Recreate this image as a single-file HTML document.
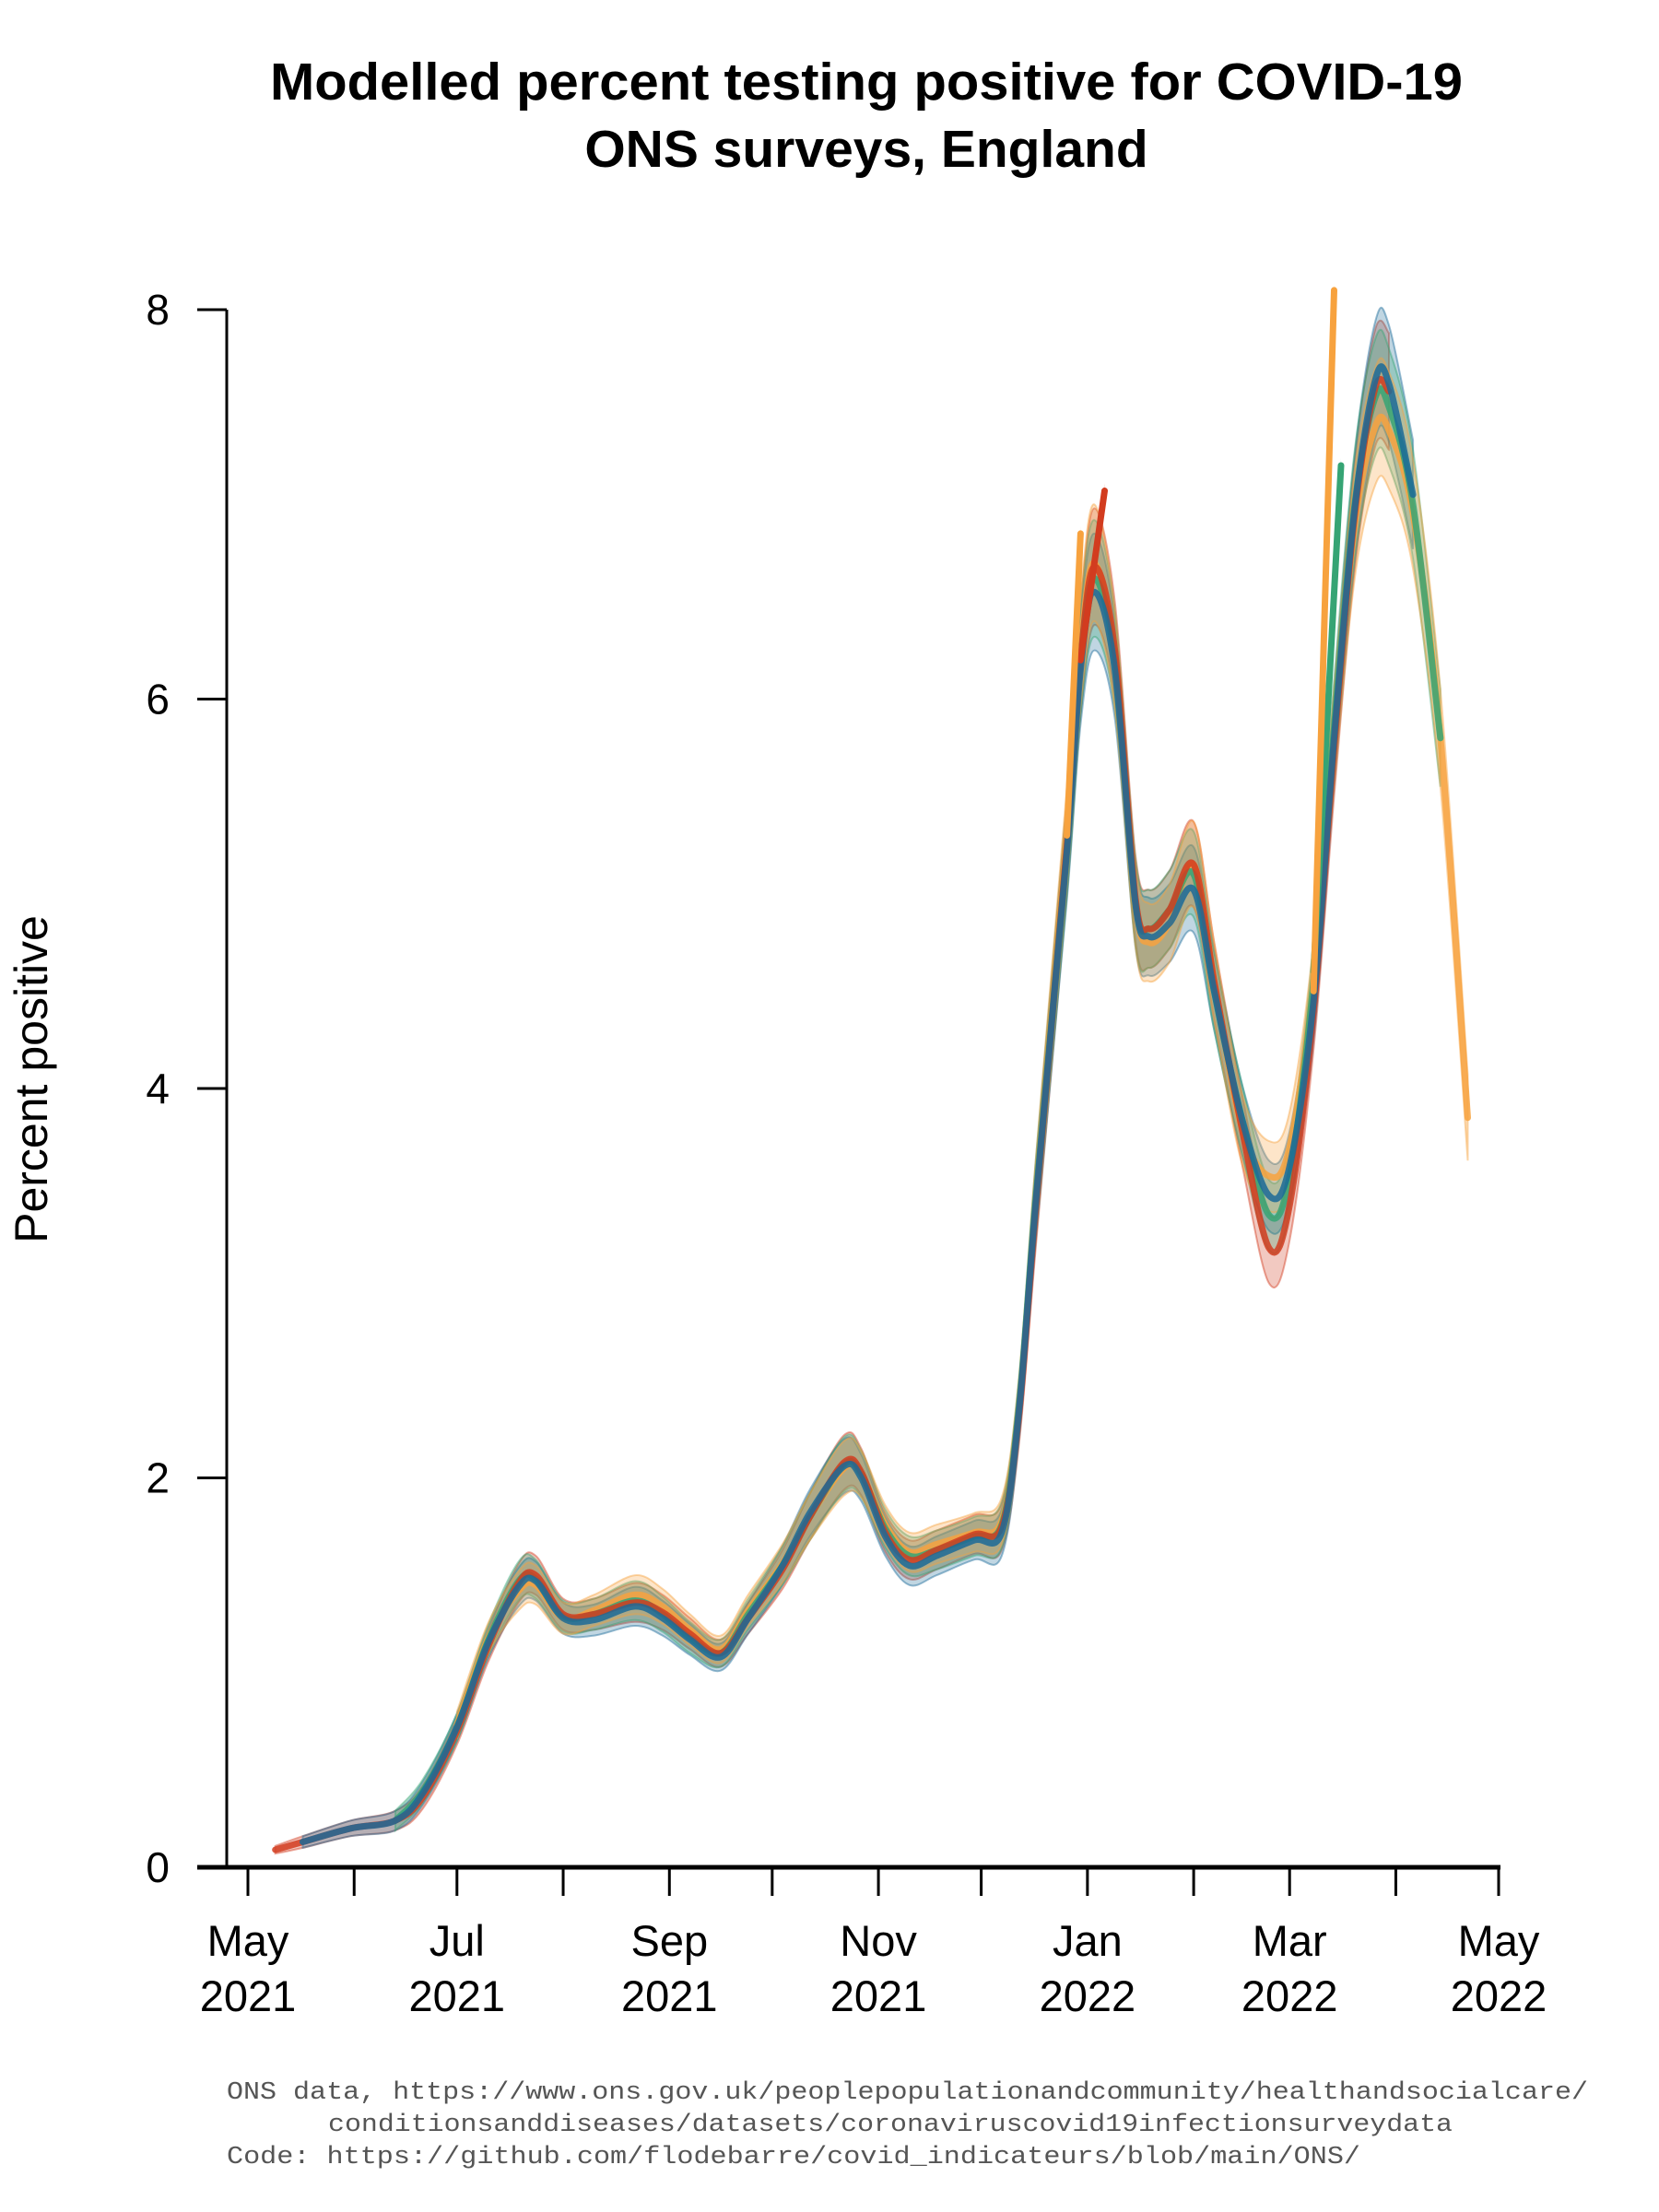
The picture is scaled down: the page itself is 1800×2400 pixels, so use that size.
<!DOCTYPE html>
<html><head><meta charset="utf-8">
<style>
html,body{margin:0;padding:0;background:#fff;}
svg{display:block;}
</style></head>
<body>
<svg id="chart" width="1800" height="2400" viewBox="0 0 1800 2400" xmlns="http://www.w3.org/2000/svg">
  <g font-family="Liberation Sans, sans-serif" font-weight="bold" font-size="57" text-anchor="middle" fill="#000">
    <text x="940" y="108" textLength="1294" lengthAdjust="spacingAndGlyphs">Modelled percent testing positive for COVID-19</text>
    <text x="940" y="181">ONS surveys, England</text>
  </g>
  <text transform="translate(51,1171) rotate(-90)" font-family="Liberation Sans, sans-serif" font-size="50" text-anchor="middle">Percent positive</text>
  <g id="axes"></g>
  <g id="bands"></g>
  <g id="lines"></g>
  <g font-family="Liberation Mono, monospace" font-size="27" fill="#555">
    <text x="246" y="2277" textLength="1477" lengthAdjust="spacingAndGlyphs">ONS data, https://www.ons.gov.uk/peoplepopulationandcommunity/healthandsocialcare/</text>
    <text x="356" y="2312" textLength="1220" lengthAdjust="spacingAndGlyphs">conditionsanddiseases/datasets/coronaviruscovid19infectionsurveydata</text>
    <text x="246" y="2347" textLength="1230" lengthAdjust="spacingAndGlyphs">Code: https://github.com/flodebarre/covid_indicateurs/blob/main/ONS/</text>
  </g>
</svg>
<script>
// ---- data (day offset from 1 May 2021) ----
const days = [8,16,30,43,51,61,70,79,84,92,101,113,121,129,138,146,156,164,174,179,186,193,201,212,220,225,230,239,243,247,253,259,263,269,276,282,290,298,304,311,317,323,329,333,340,348,356];
const redValues = [0.09,0.13,0.20,0.24,0.36,0.70,1.13,1.46,1.50,1.30,1.30,1.36,1.31,1.20,1.10,1.28,1.53,1.80,2.08,2.03,1.72,1.58,1.63,1.71,1.75,2.32,3.40,5.25,6.20,6.68,6.25,4.98,4.82,4.92,5.15,4.55,3.80,3.18,3.40,4.40,5.75,6.95,7.60,7.58,7.10,5.80,3.87];
const blueValues = [0.09,0.13,0.20,0.24,0.38,0.72,1.15,1.44,1.47,1.28,1.27,1.34,1.28,1.17,1.08,1.28,1.55,1.82,2.06,2.00,1.70,1.55,1.60,1.68,1.72,2.34,3.43,5.22,6.15,6.55,6.15,4.95,4.78,4.85,5.02,4.50,3.85,3.45,3.60,4.45,5.80,6.98,7.64,7.62,7.05,5.85,3.87];
const greenValues = [0.09,0.13,0.20,0.24,0.39,0.72,1.16,1.47,1.48,1.29,1.30,1.37,1.30,1.18,1.10,1.30,1.55,1.80,2.07,2.02,1.74,1.60,1.63,1.70,1.76,2.36,3.45,5.24,6.20,6.62,6.20,4.96,4.82,4.92,5.10,4.50,3.85,3.35,3.55,4.55,5.85,7.00,7.55,7.50,7.00,5.80,3.87];
const orangeValues = [0.09,0.13,0.20,0.24,0.38,0.73,1.17,1.42,1.45,1.28,1.32,1.40,1.34,1.22,1.12,1.32,1.56,1.80,2.05,2.02,1.76,1.62,1.66,1.72,1.78,2.36,3.45,5.30,6.25,6.70,6.20,4.95,4.75,4.85,5.15,4.55,3.80,3.55,3.70,4.55,5.80,6.90,7.40,7.38,6.95,5.80,3.85];
const bandHalf = [0.02,0.03,0.04,0.05,0.06,0.07,0.08,0.10,0.10,0.08,0.08,0.10,0.09,0.08,0.07,0.08,0.10,0.12,0.14,0.12,0.10,0.10,0.10,0.10,0.12,0.15,0.20,0.25,0.28,0.30,0.25,0.22,0.20,0.20,0.22,0.20,0.18,0.18,0.18,0.20,0.25,0.28,0.30,0.30,0.28,0.25,0.22];
const seriesStart = [0,1,3,5];
const seriesEnd = [43,44,45,46];
const redTailDays = [243,250];
const redTailValues = [6.2,7.07];
const orangeTailDays = [311,317];
const orangeTailValues = [4.5,8.1];
const orangeJanDays = [239,243];
const orangeJanValues = [5.3,6.85];
const greenTailDays = [311,319];
const greenTailValues = [4.6,7.2];
const yTicks = [0,2,4,6,8];
const xTickDays = [0,31,61,92,123,153,184,214,245,276,304,335,365];
const xLabelDays = [0,61,123,184,245,304,365];
const xLabelMonths = ["May","Jul","Sep","Nov","Jan","Mar","May"];
const xLabelYears = ["2021","2021","2021","2021","2022","2022","2022"];

// ---- scales ----
const X0 = 269, X1 = 1626, Y0 = 2026, Y8 = 336;
function xs(d){ return X0 + (X1 - X0) * d / 365; }
function ys(v){ return Y0 - (Y0 - Y8) * v / 8; }
const NS = "http://www.w3.org/2000/svg";
function mk(tag, attrs, parent){
  const e = document.createElementNS(NS, tag);
  for (const k in attrs) e.setAttribute(k, attrs[k]);
  parent.appendChild(e); return e;
}
function smooth(pts){
  if (pts.length < 3) return "M" + pts.map(p => p[0].toFixed(1) + "," + p[1].toFixed(1)).join("L");
  let s = "M" + pts[0][0].toFixed(1) + "," + pts[0][1].toFixed(1);
  for (let i = 0; i < pts.length - 1; i++){
    const p0 = pts[Math.max(0,i-1)], p1 = pts[i], p2 = pts[i+1], p3 = pts[Math.min(pts.length-1,i+2)];
    const c1 = [p1[0] + (p2[0]-p0[0])/6, p1[1] + (p2[1]-p0[1])/6];
    const c2 = [p2[0] - (p3[0]-p1[0])/6, p2[1] - (p3[1]-p1[1])/6];
    s += "C" + c1[0].toFixed(1)+","+c1[1].toFixed(1)+" "+c2[0].toFixed(1)+","+c2[1].toFixed(1)+" "+p2[0].toFixed(1)+","+p2[1].toFixed(1);
  }
  return s;
}

// ---- axes ----
const axes = document.getElementById("axes");
const yAxis = mk("line", {x1:246, y1:Y8, x2:246, y2:Y0, stroke:"#000", "stroke-width":3}, axes);


yTicks.forEach(t => {
  const tk = mk("line", {x1:214, y1:ys(t), x2:246, y2:ys(t), stroke:"#000", "stroke-width":3}, axes);
  
  
  const lb = mk("text", {x:184, y:ys(t)+16, "text-anchor":"end", "font-family":"Liberation Sans, sans-serif", "font-size":46}, axes);
  lb.textContent = t;
  
  
});
const xAxis = mk("line", {x1:214, y1:Y0, x2:X1+2, y2:Y0, stroke:"#000", "stroke-width":5}, axes);


xTickDays.forEach(d => {
  const tk = mk("line", {x1:xs(d), y1:Y0, x2:xs(d), y2:Y0+31, stroke:"#000", "stroke-width":3}, axes);
  
  
});
xLabelDays.forEach((d, i) => {
  const m = mk("text", {x:xs(d), y:2122, "text-anchor":"middle", "font-family":"Liberation Sans, sans-serif", "font-size":47}, axes);
  m.textContent = xLabelMonths[i];
  
  
  const yv = mk("text", {x:xs(d), y:2182, "text-anchor":"middle", "font-family":"Liberation Sans, sans-serif", "font-size":47}, axes);
  yv.textContent = xLabelYears[i];
  
  
});

// ---- series ----
const colors = ["#d23c1f","#1b6a98","#36a474","#f7a23e"];
const names = ["red","blue","green","orange"];
const allVals = [redValues, blueValues, greenValues, orangeValues];
const bands = document.getElementById("bands");
const lines = document.getElementById("lines");
allVals.forEach((vals, s) => {
  const up = [], lo = [];
  for (let i = seriesStart[s]; i <= seriesEnd[s]; i++){
    up.push([xs(days[i]), ys(vals[i] + bandHalf[i])]);
    lo.push([xs(days[i]), ys(vals[i] - bandHalf[i])]);
  }
  lo.reverse();
  const d = smooth(up) + "L" + smooth(lo).slice(1) + "Z";
  const b = mk("path", {d:d, fill:colors[s], "fill-opacity":0.28, stroke:colors[s], "stroke-opacity":0.45, "stroke-width":2}, bands);
  
  
});
[3,2,0,1].forEach(s => {
  const vals = allVals[s];
  const pts = [];
  for (let i = seriesStart[s]; i <= seriesEnd[s]; i++) pts.push([xs(days[i]), ys(vals[i])]);
  const l = mk("path", {d:smooth(pts), fill:"none", stroke:colors[s], "stroke-width":7, "stroke-linecap":"round", "stroke-opacity":0.85}, lines);
  
  
});
function tail(dd, vv, color, name){
  const pts = dd.map((d, i) => [xs(d), ys(vv[i])]);
  const band = mk("path", {d:"M"+pts.map(p=>p[0].toFixed(1)+","+(p[1]-8).toFixed(1)).join("L")+"L"+pts.slice().reverse().map(p=>p[0].toFixed(1)+","+(p[1]+8).toFixed(1)).join("L")+"Z", fill:color, "fill-opacity":0.3}, bands);
  
  
  const l = mk("path", {d:"M"+pts.map(p=>p[0].toFixed(1)+","+p[1].toFixed(1)).join("L"), fill:"none", stroke:color, "stroke-width":7, "stroke-linecap":"round"}, lines);
  
  
}
tail(redTailDays, redTailValues, colors[0], 'red-latest-run');
tail(orangeJanDays, orangeJanValues, colors[3], 'orange-jan-run');
tail(greenTailDays, greenTailValues, colors[2], 'green-latest-run');
tail(orangeTailDays, orangeTailValues, colors[3], 'orange-latest-run');
</script>
</body></html>
